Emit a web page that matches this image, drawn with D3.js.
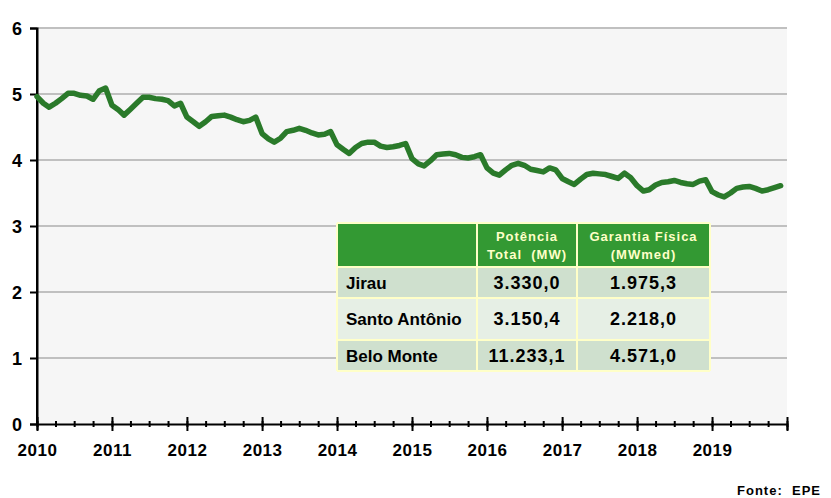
<!DOCTYPE html>
<html>
<head>
<meta charset="utf-8">
<script src="https://cdn.jsdelivr.net/npm/d3@7"></script>
<style>
  body { margin: 0; background: #fff; }
  svg { display: block; font-family: "Liberation Sans", Arial, sans-serif; }
</style>
</head>
<body>
<div id="chart"></div>
<script>
// DATA
const startYear = 2010;
const yearLabels = ["2010", "2011", "2012", "2013", "2014", "2015", "2016", "2017", "2018", "2019"];
const yTicks = [0, 1, 2, 3, 4, 5, 6];
// monthly values, one row per year (Jan..Dec)
const monthlyValues = [
	4.96, 4.86, 4.80, 4.86, 4.93, 5.01, 5.01, 4.98, 4.97, 4.92, 5.05, 5.09,
	4.83, 4.76, 4.68, 4.77, 4.86, 4.95, 4.95, 4.93, 4.92, 4.90, 4.82, 4.86,
	4.65, 4.58, 4.51, 4.58, 4.66, 4.67, 4.68, 4.65, 4.61, 4.58, 4.60, 4.65,
	4.40, 4.32, 4.27, 4.33, 4.43, 4.45, 4.48, 4.45, 4.41, 4.38, 4.39, 4.43,
	4.23, 4.16, 4.10, 4.19, 4.25, 4.27, 4.27, 4.21, 4.19, 4.20, 4.22, 4.25,
	4.02, 3.94, 3.91, 3.99, 4.08, 4.09, 4.10, 4.08, 4.04, 4.03, 4.05, 4.08,
	3.88, 3.80, 3.77, 3.85, 3.92, 3.95, 3.92, 3.86, 3.84, 3.82, 3.88, 3.85,
	3.72, 3.67, 3.63, 3.71, 3.78, 3.80, 3.79, 3.78, 3.75, 3.72, 3.80, 3.73,
	3.61, 3.53, 3.55, 3.62, 3.66, 3.67, 3.69, 3.66, 3.64, 3.63, 3.68, 3.70,
	3.52, 3.47, 3.44, 3.50, 3.57, 3.59, 3.60, 3.57, 3.53, 3.55, 3.58, 3.61
];

// table
const tableHeaders = [["", ""], ["Potência", "Total  (MW)"], ["Garantia Física", "(MWmed)"]];
const plants = ["Jirau", "Santo Antônio", "Belo Monte"];
const potenciaTotal = ["3.330,0", "3.150,4", "11.233,1"];
const garantiaFisica = ["1.975,3", "2.218,0", "4.571,0"];
const source = "Fonte:  EPE";

// LAYOUT
const outerWidth = 831;
const outerHeight = 498;
const plot = { left: 37, right: 787, top: 28, bottom: 424 };

const svg = d3.select("#chart").append("svg")
	.attr("width", outerWidth)
	.attr("height", outerHeight);

const x = d3.scaleTime()
	.domain([new Date(startYear, 0, 1), new Date(startYear + 10, 0, 1)])
	.range([plot.left, plot.right]);

const y = d3.scaleLinear()
	.domain([0, 6])
	.range([plot.bottom, plot.top]);

const data = monthlyValues.map((v, i) => ({ date: new Date(startYear, i, 1), value: v }));

// background
svg.append("rect")
	.attr("x", plot.left)
	.attr("y", plot.top)
	.attr("width", plot.right - plot.left)
	.attr("height", plot.bottom - plot.top)
	.attr("fill", "#f6f6f6");

// gridlines
svg.append("g")
	.selectAll("line")
	.data(yTicks.filter(d => d > 0))
	.enter()
	.append("line")
	.attr("x1", plot.left)
	.attr("x2", plot.right)
	.attr("y1", d => y(d))
	.attr("y2", d => y(d))
	.attr("stroke", "#c0c0c0")
	.attr("stroke-width", 2);

// y axis
const yAxis = svg.append("g")
	.attr("transform", `translate(${plot.left},0)`)
	.call(d3.axisLeft(y).tickValues(yTicks).tickSize(7).tickPadding(8).tickFormat(d3.format("d")));
yAxis.select(".domain").attr("stroke", "#000").attr("stroke-width", 2);
yAxis.selectAll(".tick line").attr("stroke", "#000").attr("stroke-width", 2);
yAxis.selectAll("text")
	.attr("fill", "#000")
	.style("font-size", "18px")
	.style("font-weight", "bold")
	.attr("dy", "0.36em");

// x axis, minor ticks (quarters)
const xMinor = svg.append("g")
	.attr("transform", `translate(0,${plot.bottom})`)
	.call(d3.axisBottom(x).ticks(d3.timeMonth.every(3)).tickSize(0).tickFormat(""));
xMinor.select(".domain").remove();
xMinor.selectAll(".tick line")
	.attr("y1", -3)
	.attr("y2", 3)
	.attr("stroke", "#000")
	.attr("stroke-width", 2);

// x axis, years
const xAxis = svg.append("g")
	.attr("transform", `translate(0,${plot.bottom})`)
	.call(d3.axisBottom(x)
		.ticks(d3.timeYear.every(1))
		.tickSizeOuter(0)
		.tickSize(6)
		.tickPadding(14)
		.tickFormat(d => {
			const i = d.getFullYear() - startYear;
			return i < yearLabels.length ? yearLabels[i] : "";
		}));
xAxis.select(".domain").attr("stroke", "#000").attr("stroke-width", 2);
xAxis.selectAll(".tick line")
	.attr("y1", -7)
	.attr("y2", 7)
	.attr("stroke", "#000")
	.attr("stroke-width", 2);
xAxis.selectAll("text")
	.attr("fill", "#000")
	.style("font-size", "17px")
	.style("font-weight", "bold")
	.style("letter-spacing", "0.5px");

// y axis line over background
svg.append("line")
	.attr("x1", plot.left).attr("x2", plot.left)
	.attr("y1", plot.top).attr("y2", plot.bottom)
	.attr("stroke", "#000").attr("stroke-width", 2);

// the series
const line = d3.line()
	.x(d => x(d.date))
	.y(d => y(d.value));

svg.append("path")
	.datum(data)
	.attr("d", line)
	.attr("fill", "none")
	.attr("stroke", "#2a7a2a")
	.attr("stroke-width", 5.5)
	.attr("stroke-linejoin", "round")
	.attr("stroke-linecap", "round");

// TABLE
const colEdges = [337, 477, 577, 710];
const rowEdges = [223, 267, 298, 340, 371];
const rowFills = ["#cfe0ce", "#e6efe5", "#cfe0ce"];
const table = svg.append("g");

table.append("rect")
	.attr("x", colEdges[0])
	.attr("y", rowEdges[0])
	.attr("width", colEdges[3] - colEdges[0])
	.attr("height", rowEdges[1] - rowEdges[0])
	.attr("fill", "#339933");

table.selectAll("rect.row")
	.data(plants)
	.enter()
	.append("rect")
	.attr("class", "row")
	.attr("x", colEdges[0])
	.attr("y", (d, i) => rowEdges[i + 1])
	.attr("width", colEdges[3] - colEdges[0])
	.attr("height", (d, i) => rowEdges[i + 2] - rowEdges[i + 1])
	.attr("fill", (d, i) => rowFills[i]);

// borders
table.selectAll("line.h")
	.data(rowEdges)
	.enter()
	.append("line")
	.attr("x1", colEdges[0]).attr("x2", colEdges[3])
	.attr("y1", d => d).attr("y2", d => d)
	.attr("stroke", "#ffffc8").attr("stroke-width", 2);
table.selectAll("line.v")
	.data(colEdges)
	.enter()
	.append("line")
	.attr("x1", d => d).attr("x2", d => d)
	.attr("y1", rowEdges[0]).attr("y2", rowEdges[4])
	.attr("stroke", "#ffffc8").attr("stroke-width", 2);

// header text
tableHeaders.forEach((h, c) => {
	const cx = (colEdges[c] + colEdges[c + 1]) / 2;
	h.forEach((t, k) => {
		table.append("text")
			.attr("x", cx)
			.attr("y", rowEdges[0] + 18 + k * 18)
			.attr("text-anchor", "middle")
			.attr("fill", "#ffffc8")
			.style("font-size", "13px")
			.style("font-weight", "bold")
			.style("letter-spacing", "1px")
			.style("white-space", "pre")
			.text(t);
	});
});

// body text
plants.forEach((p, r) => {
	const cy = (rowEdges[r + 1] + rowEdges[r + 2]) / 2;
	table.append("text")
		.attr("x", colEdges[0] + 9)
		.attr("y", cy)
		.attr("dy", "0.36em")
		.style("font-size", "17px")
		.style("font-weight", "bold")
		.text(p);
	[potenciaTotal[r], garantiaFisica[r]].forEach((v, c) => {
		table.append("text")
			.attr("x", (colEdges[c + 1] + colEdges[c + 2]) / 2)
			.attr("y", cy)
			.attr("dy", "0.36em")
			.attr("text-anchor", "middle")
			.style("font-size", "18px")
			.style("font-weight", "bold")
			.style("letter-spacing", "1px")
			.text(v);
	});
});

// source
svg.append("text")
	.attr("x", 821)
	.attr("y", 495)
	.attr("text-anchor", "end")
	.style("font-size", "13px")
	.style("font-weight", "bold")
	.style("letter-spacing", "1px")
	.style("white-space", "pre")
	.text(source);
</script>
</body>
</html>
